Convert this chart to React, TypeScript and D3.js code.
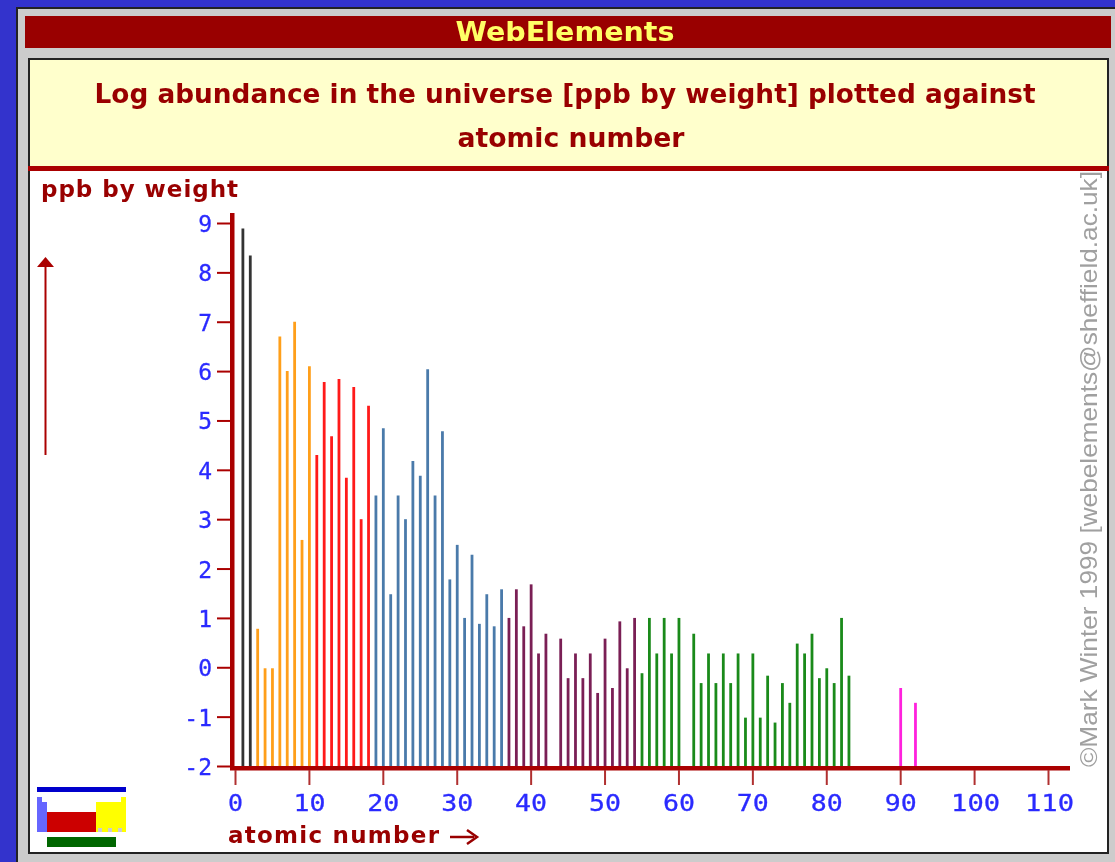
import React from "react";
import * as d3 from "d3";

const atomicNumbers = d3.range(1, 93);
const logAbundance: (number | null)[] = [
  8.91, 8.36, 0.8, 0, 0, 6.72, 6.02, 7.02, 2.6, 6.12,
  4.32, 5.8, 4.7, 5.86, 3.86, 5.7, 3.02, 5.32, 3.5, 4.86,
  1.5, 3.5, 3.02, 4.2, 3.9, 6.06, 3.5, 4.8, 1.8, 2.5,
  1.02, 2.3, 0.9, 1.5, 0.85, 1.6, 1.02, 1.6, 0.85, 1.7,
  0.3, 0.7, null, 0.6, -0.2, 0.3, -0.2, 0.3, -0.5, 0.6,
  -0.4, 0.95, 0, 1.02, -0.1, 1.02, 0.3, 1.02, 0.3, 1.02,
  null, 0.7, -0.3, 0.3, -0.3, 0.3, -0.3, 0.3, -1, 0.3,
  -1, -0.15, -1.1, -0.3, -0.7, 0.5, 0.3, 0.7, -0.2, 0,
  -0.3, 1.02, -0.15, null, null, null, null, null, null, -0.4,
  null, -0.7,
];
const groupStarts = [1, 3, 11, 19, 37, 55, 87];
const groupColors = ["#333333", "#ff9f1a", "#ff1a1a", "#4a7aaa", "#7a1f55", "#1a8a1a", "#ff22dd"];
const yTicks = d3.range(-2, 10);
const xTicks = d3.range(0, 111, 10);
const titleLines = ["Log abundance in the universe [ppb by weight] plotted against", "atomic number"];

const x = d3.scaleLinear().domain([0, 110]).range([235.5, 1048.5]);
const y = d3.scaleLinear().domain([-2, 9]).range([767, 224]);
const colorOf = d3.scaleThreshold<number, string>().domain(groupStarts.slice(1)).range(groupColors);

const RED = "#990000";
const BLUE = "#2a2aff";
const pixel = "'DejaVu Sans', sans-serif";
const mono = "'DejaVu Sans Mono', monospace";

export default function App() {
  return (
    <svg width={1115} height={862} style={{ position: "fixed", left: 0, top: 0, filter: "blur(0.55px)" }}>
      <rect width={1115} height={862} fill="#3333cc" />
      <rect x={16} y={7} width={1099} height={855} fill="#222" />
      <rect x={18} y={9} width={1097} height={853} fill="#cccccc" />
      <rect x={25} y={16} width={1086} height={32} fill={RED} />
      <text x={565} y={41} textAnchor="middle" fill="#ffff66" fontFamily={pixel} fontWeight="bold" fontSize={27} textLength={219} lengthAdjust="spacingAndGlyphs">WebElements</text>

      <rect x={28} y={58} width={1081} height={796} fill="#222" />
      <rect x={30} y={60} width={1077} height={792} fill="#ffffff" />
      <rect x={30} y={60} width={1077} height={107} fill="#ffffcc" />
      <rect x={28} y={166} width={1081} height={5} fill="#aa0000" />
      <text x={565} y={103} textAnchor="middle" fill={RED} fontFamily={pixel} fontWeight="bold" fontSize={27} textLength={941} lengthAdjust="spacingAndGlyphs">{titleLines[0]}</text>
      <text x={571} y={147} textAnchor="middle" fill={RED} fontFamily={pixel} fontWeight="bold" fontSize={27} textLength={227} lengthAdjust="spacingAndGlyphs">{titleLines[1]}</text>

      <text x={41} y={197} fill={RED} fontFamily={pixel} fontWeight="bold" fontSize={23} textLength={197} lengthAdjust="spacing">ppb by weight</text>

      {/* vertical arrow */}
      <line x1={45.5} x2={45.5} y1={264} y2={455} stroke="#aa0000" strokeWidth={2} />
      <path d="M45.5 257 L54 267 H37 Z" fill="#aa0000" />

      {/* bars */}
      {atomicNumbers.map((n, i) => {
        const v = logAbundance[i];
        if (v === null) return null;
        return <line key={n} x1={x(n)} x2={x(n)} y1={y(-2)} y2={y(v)} stroke={colorOf(n)} strokeWidth={2.8} />;
      })}

      {/* y axis */}
      <rect x={230} y={213} width={4.5} height={557} fill="#aa0000" />
      {yTicks.map((t) => (
        <g key={t}>
          <line x1={217} x2={231} y1={y(t) - 0.5} y2={y(t) - 0.5} stroke="#aa0000" strokeWidth={2} />
          <text x={212} y={y(t) + 8} textAnchor="end" fill={BLUE} fontFamily={mono} fontSize={23} stroke={BLUE} strokeWidth={0.3}>{t < 0 ? `-${-t}` : t}</text>
        </g>
      ))}

      {/* x axis */}
      <rect x={230} y={766} width={840} height={4.5} fill="#aa0000" />
      {xTicks.map((t) => (
        <g key={t}>
          <line x1={x(t)} x2={x(t)} y1={770} y2={785} stroke="#b03030" strokeWidth={2} />
          <text x={x(t) + (t >= 100 ? 1 : 0)} y={811} textAnchor="middle" fill={BLUE} fontFamily={mono} fontSize={23} stroke={BLUE} strokeWidth={0.3} textLength={t === 0 ? 15 : t >= 100 ? 49 : 32} lengthAdjust="spacingAndGlyphs">{t}</text>
        </g>
      ))}
      <text x={228} y={843} fill={RED} fontFamily={pixel} fontWeight="bold" fontSize={23} textLength={211} lengthAdjust="spacing">atomic number</text>
      <line x1={450} x2={474} y1={837} y2={837} stroke={RED} strokeWidth={2.5} />
      <path d="M467 830 L477 837 L467 844" fill="none" stroke={RED} strokeWidth={2.5} />

      {/* copyright */}
      <text transform="translate(1097,767) rotate(-90)" fill="#a0a0a0" fontFamily="'Liberation Sans', sans-serif" fontSize={24} textLength={596} lengthAdjust="spacingAndGlyphs">©Mark Winter 1999 [webelements@sheffield.ac.uk]</text>

      {/* periodic table icon */}
      <rect x={37} y={787} width={89} height={5} fill="#0000cc" />
      <path d="M37 797 H42 V802 H47 V832 H37 Z" fill="#6666ff" />
      <rect x={47} y={812} width={49} height={20} fill="#cc0000" />
      <path d="M96 802 H121 V797 H126 V832 H96 Z" fill="#ffff00" />
      <rect x={98} y={828} width={4} height={4} fill="#cccccc" />
      <rect x={108} y={828} width={4} height={4} fill="#cccccc" />
      <rect x={118} y={828} width={4} height={4} fill="#cccccc" />
      <rect x={47} y={837} width={69} height={10} fill="#006600" />
    </svg>
  );
}
